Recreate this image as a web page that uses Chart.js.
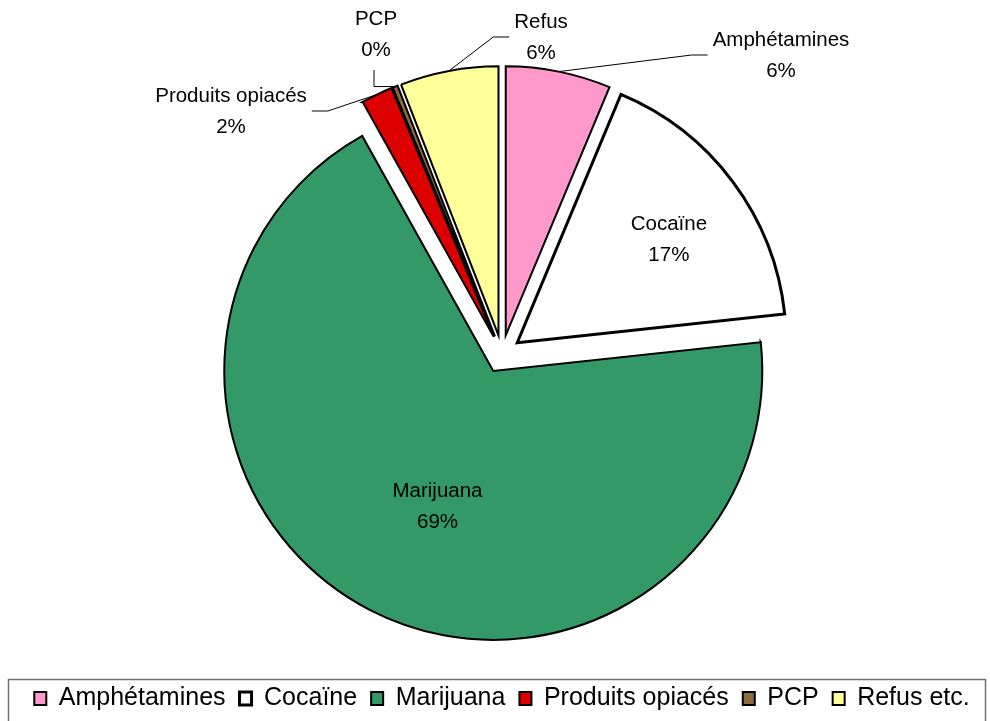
<!DOCTYPE html>
<html lang="fr">
<head>
  <meta charset="UTF-8">
  <title>Drogues détectées</title>
  <script src="https://cdn.jsdelivr.net/npm/chart.js@4"></script>
  <style>
    body {
      margin: 0;
      background-color: #fff;
    }
  </style>
</head>
<body>
  <canvas id="drugPie" width="990" height="721"></canvas>

  <script>
    // Légende (texte long) et étiquettes des parts (texte court)
    const categories = ['Amphétamines', 'Cocaïne', 'Marijuana', 'Produits opiacés', 'PCP', 'Refus etc.'];
    const sliceNames = ['Amphétamines', 'Cocaïne', 'Marijuana', 'Produits opiacés', 'PCP', 'Refus'];
    // Parts en %
    const shares = [6.3, 17.0, 68.6, 1.9, 0.3, 5.9];

    const sliceColors = ['#FF99CC', '#FFFFFF', '#339966', '#DD0000', '#8B6B3D', '#FFFF99'];
    const sliceBorders = [2, 3, 2, 2, 2, 2];

    const FONT = '"Liberation Sans", Arial, sans-serif';
    const EXPLODE = 19;

    // where each label goes: inside = fraction of radius (+ small nudge), otherwise offset from pie centre
    const labelSpots = [
      { dx: 279, dy: -299, side: 'left' },
      { inside: 0.68, nx: 5, ny: 6 },
      { inside: 0.54, nx: 11, ny: 6 },
      { dx: -271, dy: -243, side: 'right' },
      { dx: -126, dy: -320, side: 'bottom' },
      { dx: 39, dy: -317, side: 'left' }
    ];

    // push every slice outwards along its middle angle
    const explodePlugin = {
      id: 'explode',
      afterDatasetUpdate(chart, args) {
        chart.getDatasetMeta(args.index).data.forEach(arc => {
          const mid = (arc.startAngle + arc.endAngle) / 2;
          arc.x += Math.cos(mid) * EXPLODE;
          arc.y += Math.sin(mid) * EXPLODE;
        });
      }
    };

    const sliceLabelPlugin = {
      id: 'sliceLabels',
      afterDatasetsDraw(chart) {
        const ctx = chart.ctx;
        const area = chart.chartArea;
        const cx = (area.left + area.right) / 2;
        const cy = (area.top + area.bottom) / 2;
        ctx.save();
        ctx.font = '20.5px ' + FONT;
        ctx.fillStyle = '#000';
        ctx.strokeStyle = '#000';
        ctx.lineWidth = 1;
        ctx.textAlign = 'center';
        ctx.textBaseline = 'middle';
        chart.getDatasetMeta(0).data.forEach((arc, i) => {
          const lines = [sliceNames[i], Math.round(shares[i]) + '%'];
          const spot = labelSpots[i];
          const mid = (arc.startAngle + arc.endAngle) / 2;
          let x, y;
          if (spot.inside) {
            x = arc.x + Math.cos(mid) * arc.outerRadius * spot.inside + spot.nx;
            y = arc.y + Math.sin(mid) * arc.outerRadius * spot.inside + spot.ny;
          } else {
            x = cx + spot.dx;
            y = cy + spot.dy;
            const w = Math.max(...lines.map(t => ctx.measureText(t).width));
            const ex = arc.x + Math.cos(mid) * arc.outerRadius;
            const ey = arc.y + Math.sin(mid) * arc.outerRadius;
            let end, elbow;
            if (spot.side === 'left') {
              end = [x - w / 2 - 5, y];
              elbow = [end[0] - 16, y];
            } else if (spot.side === 'right') {
              end = [x + w / 2 + 5, y];
              elbow = [end[0] + 16, y];
            } else {
              end = [x - 2, y + 36];
              elbow = [end[0], ey];
            }
            ctx.beginPath();
            ctx.moveTo(ex, ey);
            ctx.lineTo(elbow[0], elbow[1]);
            ctx.lineTo(end[0], end[1]);
            ctx.stroke();
          }
          ctx.fillText(lines[0], x, y - 15);
          ctx.fillText(lines[1], x, y + 16);
        });
        ctx.restore();
      }
    };

    // frame round the legend
    const legendFrame = {
      id: 'legendFrame',
      afterDraw(chart) {
        const ctx = chart.ctx;
        ctx.save();
        ctx.strokeStyle = '#707070';
        ctx.lineWidth = 1.5;
        ctx.strokeRect(8.5, 679.5, 977, 60);
        ctx.restore();
      }
    };

    new Chart(document.getElementById('drugPie'), {
      type: 'pie',
      data: {
        labels: categories,
        datasets: [{
          data: shares,
          backgroundColor: sliceColors,
          borderColor: '#000',
          borderWidth: sliceBorders,
          borderJoinStyle: 'miter'
        }]
      },
      options: {
        responsive: false,
        animation: false,
        events: [],
        radius: 269,
        layout: { padding: { left: 14, right: 0, top: 36, bottom: 0 } },
        plugins: {
          tooltip: { enabled: false },
          legend: {
            position: 'bottom',
            labels: {
              color: '#000',
              font: { family: FONT, size: 25 },
              boxWidth: 12,
              boxHeight: 13,
              padding: 14
            }
          }
        }
      },
      plugins: [explodePlugin, sliceLabelPlugin, legendFrame]
    });
  </script>
</body>
</html>
